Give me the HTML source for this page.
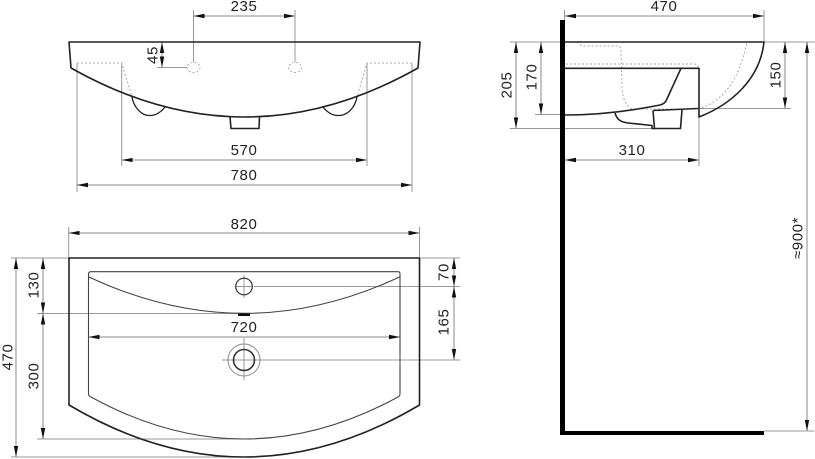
<!DOCTYPE html>
<html><head><meta charset="utf-8"><style>
html,body{margin:0;padding:0;background:#fff}
svg{display:block}
text{font-family:"Liberation Sans",sans-serif;font-size:15px;letter-spacing:.6px;fill:#222;text-anchor:middle}
.d{stroke:#999;stroke-width:1;fill:none}
.a{stroke:#888;stroke-width:1;fill:none;marker-start:url(#m);marker-end:url(#m)}
.o{stroke:#222;stroke-width:1.6;fill:none;stroke-linejoin:round}
.i{stroke:#444;stroke-width:1.1;fill:none}
.p{stroke:#aaa;stroke-width:1;fill:none;stroke-dasharray:2 2}
</style></head><body>
<svg width="815" height="459" viewBox="0 0 815 459" xmlns="http://www.w3.org/2000/svg">
<defs><marker id="m" markerUnits="userSpaceOnUse" markerWidth="11" markerHeight="5" refX="11" refY="2.5" orient="auto-start-reverse"><path d="M0,0.3 L11,2.5 L0,4.7 z" fill="#111"/></marker></defs>

<!-- top-left view -->
<path class="d" d="M193.5,10V62M295,10V62M157,67.5H187M121.7,63V166M367,63V166M77,63V192M412,63V192"/>
<path class="a" d="M193.5,16H295"/>
<path class="a" d="M162,42V67.5"/>
<path class="a" d="M121.7,160H367"/>
<path class="a" d="M77,185H412"/>
<path class="p" d="M77,63H121.7L132,97M412,63H367L357,97"/>
<ellipse class="p" cx="193.5" cy="67.5" rx="6.5" ry="5"/>
<ellipse class="p" cx="295" cy="67.5" rx="6.5" ry="5"/>
<path class="o" d="M71,68L69,42H420L418,68Q244.500,166 71,68Z"/>
<path class="i" style="stroke:#222;stroke-width:1.3" d="M132,97C134,108 142,116 150,115.500C156,115.500 161,112 165,107M357,97C355,108 347,116 338,115.500C332,115.500 327,112 323,107"/>
<path class="o" d="M230,116.500L231,128.500H259L259.500,116.500"/>
<text x="244" y="11">235</text>
<text x="244" y="155">570</text>
<text x="244" y="180">780</text>
<text transform="translate(157.500,55) rotate(-90)">45</text>

<!-- side view -->
<path class="d" d="M564.500,10V20M764,10V42M699,117V166M510,42H560M764,42H815M535,114.500H560M510,128.500H652M699,108.500H791M764,431H814"/>
<path class="a" d="M565,16H764"/>
<path class="a" d="M516,42V128.500"/>
<path class="a" d="M541,42V114.500"/>
<path class="a" d="M785,42V108.500"/>
<path class="a" d="M807,42V431"/>
<path class="a" d="M565,160H699"/>
<path class="p" d="M577,42L582,46H618Q621,46 621,52L622,87Q623,105 632,109H697Q735,100 747,42M566,64H695L698.700,67"/>
<path d="M560,20H565V431H764V435H560Z" fill="#000"/>
<path class="o" d="M565,42H764C760,80 730,105 699,117V68.300H565"/>
<path class="o" d="M681,68.300L666,101Q664,104 660,105C630,111 600,115 565,115"/>
<path class="o" d="M653,110.500L698,108.500"/>
<path class="o" d="M653,110.500L654.500,128.500H680.500L682,110"/>
<path class="o" d="M615,113C617,120 621,122 628,123L652,125.500V128.500H655"/>
<text x="664" y="11">470</text>
<text x="632" y="155">310</text>
<text transform="translate(511.500,85) rotate(-90)">205</text>
<text transform="translate(536.500,77) rotate(-90)">170</text>
<text transform="translate(780.500,75) rotate(-90)">150</text>
<text transform="translate(802.500,238) rotate(-90)">≈900*</text>

<!-- bottom-left view -->
<path class="d" d="M68.700,227V258M419.500,227V258M11,258H69M420,258H460M37,313.500H238M37,439H244M11,457H244M254,286.500H460M260,360H460M236,286.500H252M244,275V298M222,360H266M244,338V380"/>
<path class="a" d="M68.700,233H419.500"/>
<path class="a" d="M88.500,337H400"/>
<path class="a" d="M16,258V457"/>
<path class="a" d="M43,258V313.500"/>
<path class="a" d="M43,313.500V439"/>
<path class="a" d="M454,258V286.500"/>
<path class="a" d="M454,286.500V360"/>
<path class="o" d="M69,258H419.500V405Q244.300,509 69,405Z"/>
<path class="i" d="M88.500,274Q88.500,271.700 91,271.700H398Q400,271.700 400,274V394Q400,396 398,397Q244,481 91,397Q88.500,396 88.500,394Z"/>
<path class="i" d="M88.500,276.700Q244.300,350 400,276.700"/>
<path d="M238,313.500H250V316H238Z" fill="#111"/>
<circle cx="244" cy="286.500" r="8.300" fill="none" stroke="#333" stroke-width="1.2"/>
<circle cx="244" cy="360" r="10.500" fill="none" stroke="#333" stroke-width="1.6"/>
<circle cx="244" cy="360" r="16" fill="none" stroke="#888" stroke-width="1"/>
<text x="244" y="229">820</text>
<text x="244" y="332">720</text>
<text transform="translate(12.500,357) rotate(-90)">470</text>
<text transform="translate(38.500,285) rotate(-90)">130</text>
<text transform="translate(38.500,376) rotate(-90)">300</text>
<text transform="translate(448.500,272) rotate(-90)">70</text>
<text transform="translate(448.500,322) rotate(-90)">165</text>
</svg>
</body></html>
